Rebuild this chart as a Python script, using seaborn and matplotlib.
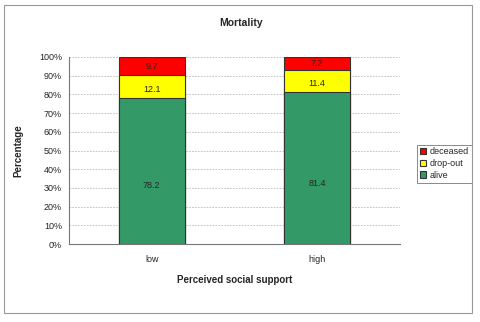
import matplotlib
matplotlib.use("Agg")
import matplotlib.pyplot as plt
import seaborn as sns
import pandas as pd
from matplotlib.patches import Rectangle

categories = ["low", "high"]
alive = [78.2, 81.4]
dropout = [12.1, 11.4]
deceased = [9.7, 7.2]
yticks = [0, 10, 20, 30, 40, 50, 60, 70, 80, 90, 100]

sns.set_style("white")
plt.rcParams['font.family'] = ['Liberation Sans', 'DejaVu Sans']

df = pd.DataFrame({"cat": categories, "alive": alive, "dropout": dropout, "deceased": deceased})
df["top"] = df["alive"] + df["dropout"] + df["deceased"]
df["mid"] = df["alive"] + df["dropout"]

fig = plt.figure(figsize=(4.8, 3.22), dpi=100)
ax = fig.add_axes([69/480, 1-244/322, (400-69)/480, (244-57)/322])

edge = "#333333"
sns.barplot(data=df, x="cat", y="top", color="#FF0000", width=0.4, edgecolor=edge, linewidth=0.8, ax=ax, saturation=1, label="deceased")
sns.barplot(data=df, x="cat", y="mid", color="#FFFF00", width=0.4, edgecolor=edge, linewidth=0.8, ax=ax, saturation=1, label="drop-out")
sns.barplot(data=df, x="cat", y="alive", color="#339966", width=0.4, edgecolor=edge, linewidth=0.8, ax=ax, saturation=1, label="alive")

for i in range(len(categories)):
    ax.text(i, alive[i] * 0.4, f"{alive[i]:.1f}", ha="center", va="center", fontsize=6.5)
    ax.text(i, alive[i] + dropout[i] / 2 - 1.5, f"{dropout[i]:.1f}", ha="center", va="center", fontsize=6.5)
    ax.text(i, alive[i] + dropout[i] + deceased[i] / 2, f"{deceased[i]:.1f}", ha="center", va="center", fontsize=6.5)

ax.set_ylim(0, 100)
ax.set_xlim(-0.5, 1.5)
ax.set_yticks(yticks)
ax.set_yticklabels([f"{t}%" for t in yticks], fontsize=6.5)
ax.set_xticks([0, 1])
ax.set_xticklabels(categories, fontsize=6.5)
ax.set_xticks([0.5], minor=True)
ax.tick_params(axis="x", which="major", length=0, pad=8)
ax.tick_params(axis="x", which="minor", length=3, direction="out", color="#777777")
ax.tick_params(axis="y", length=3, direction="out", color="#777777", pad=2)
for t in yticks[1:]:
    ax.axhline(t, color="#bbbbbb", linestyle=(0, (2, 1.5)), linewidth=0.6, zorder=0)
ax.set_axisbelow(True)
for s in ["top", "right"]:
    ax.spines[s].set_visible(False)
for s in ["left", "bottom"]:
    ax.spines[s].set_color("#777777")
    ax.spines[s].set_linewidth(0.8)

ax.set_xlabel("Perceived social support", fontsize=7, fontweight="bold", labelpad=8)
ax.set_ylabel("Percentage", fontsize=7, fontweight="bold", labelpad=11)
fig.text(241/480, 1-23/322, "Mortality", ha="center", va="center", fontsize=7.5, fontweight="bold")

leg = ax.legend(loc="center left", bbox_to_anchor=((417-69)/331, 0.43), fontsize=6.5, frameon=True,
                handlelength=0.7, handleheight=0.7, handletextpad=0.4, borderpad=0.3,
                labelspacing=0.3, fancybox=False, edgecolor="#555555", borderaxespad=0)
leg.get_frame().set_linewidth(0.6)
for h in leg.legend_handles:
    h.set_edgecolor("#333333")

fig.patches.append(Rectangle((4/480, 1-313/322), 468/480, 308/322, transform=fig.transFigure,
                             fill=False, edgecolor="#999999", linewidth=0.8))

fig.savefig("out.png", dpi=100)
